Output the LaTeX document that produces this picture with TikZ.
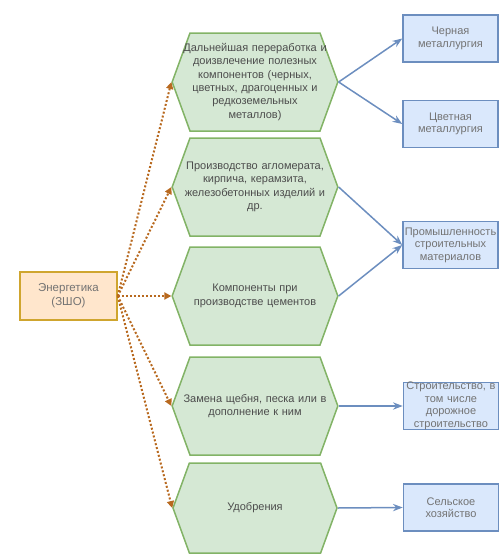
\documentclass[tikz,border=0pt]{standalone}
\usepackage{fontspec}
\setmainfont{Liberation Sans}
\usetikzlibrary{arrows.meta, positioning, shapes.symbols}
\definecolor{hexfill}{HTML}{D5E8D4}
\definecolor{hexdraw}{HTML}{82B366}
\definecolor{boxfill}{HTML}{DAE8FC}
\definecolor{boxdraw}{HTML}{6C8EBF}
\definecolor{srcfill}{HTML}{FFE6CC}
\definecolor{srcdraw}{HTML}{CFA52E}
\definecolor{dotline}{HTML}{B8691F}
\colorlet{txtgray}{black!70}

\begin{document}
\begin{tikzpicture}[x=1pt, y=-1pt, >=Stealth,
    hexbox/.style={signal, signal to=west and east, signal pointer angle=140,
      draw=hexdraw, fill=hexfill, line width=1.5pt, minimum width=164pt,
      minimum height=98pt, text width=152pt, align=center, inner xsep=-11pt,
      inner ysep=0pt, font=\fontsize{11}{13.3}\selectfont, text=txtgray},
    tgtbox/.style={draw=boxdraw, fill=boxfill, line width=1.5pt,
      minimum width=95pt, minimum height=47pt, text width=100pt, align=center,
      inner xsep=-4pt, inner ysep=0pt, font=\fontsize{11}{12.5}\selectfont,
      text=black!55},
    srcbox/.style={draw=srcdraw, fill=srcfill, line width=1.5pt,
      minimum width=97pt, minimum height=48pt, text width=90pt, align=center,
      inner sep=0pt, font=\fontsize{11.5}{14}\selectfont, text=black!55},
    srcarrow/.style={dotline, dotted, line width=2pt, -{Triangle[length=7pt, width=7pt]}},
    tgtarrow/.style={boxdraw, line width=1.5pt, ->}]
  \useasboundingbox (0,0) rectangle (500,554);

  % source
  \node[srcbox] (src) at (68.5,296) {Энергетика\\(ЗШО)};

  % uses
  \node[hexbox] (h1) at (255,82) {Дальнейшая переработка и\\доизвлечение полезных\\компонентов (черных,\\цветных, драгоценных и\\редкоземельных\\металлов)};
  \node[hexbox] (h2) at (255,187) {Производство агломерата,\\кирпича, керамзита,\\железобетонных изделий и\\др.};
  \node[hexbox] (h3) at (255,296) {Компоненты при\\производстве цементов};
  \node[hexbox] (h4) at (255,406) {Замена щебня, песка или в\\дополнение к ним};
  \node[hexbox, minimum height=90pt] (h5) at (255,508) {Удобрения};

  % branches
  \node[tgtbox] (t1) at (450.5,38.5) {Черная\\металлургия};
  \node[tgtbox] (t2) at (450.5,124) {Цветная\\металлургия};
  \node[tgtbox] (t3) at (450.5,245) {Промышленность\\строительных\\материалов};
  \node[tgtbox] (t4) at (451,406) {Строительство, в\\том числе\\дорожное\\строительство};
  \node[tgtbox] (t5) at (451,507.5) {Сельское\\хозяйство};

  \foreach \h in {h1,h2,h3,h4,h5}
    \draw[srcarrow] (src.east) -- (\h.west);

  \draw[tgtarrow] (h1.east) -- (t1.west);
  \draw[tgtarrow] (h1.east) -- (t2.west);
  \draw[tgtarrow] (h2.east) -- (t3.west);
  \draw[tgtarrow] (h3.east) -- (t3.west);
  \draw[tgtarrow] (h4.east) -- (t4.west);
  \draw[tgtarrow] (h5.east) -- (t5.west);
\end{tikzpicture}
\end{document}
